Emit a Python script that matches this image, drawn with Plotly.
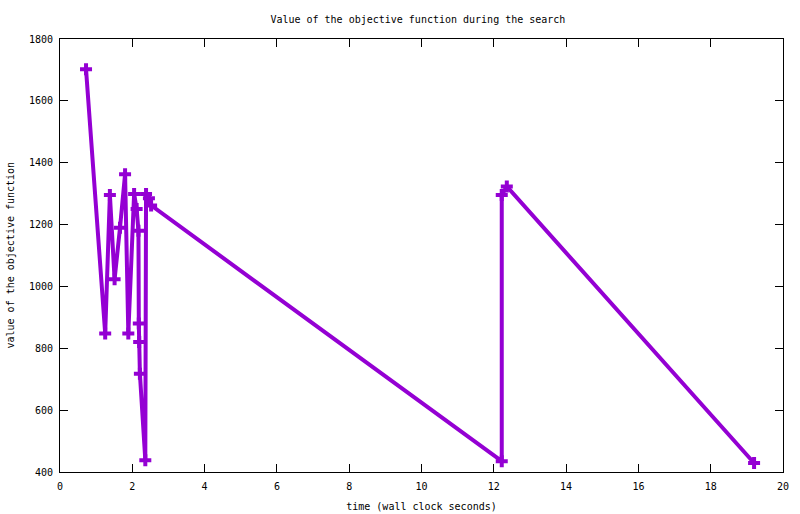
import plotly.graph_objects as go

time_s = [0.72, 1.25, 1.38, 1.51, 1.66, 1.80, 1.89, 2.05, 2.12, 2.17, 2.18, 2.19, 2.21, 2.36, 2.38, 2.46, 2.52,
          12.22, 12.22, 12.36, 19.20]
objective = [1702, 848, 1296, 1023, 1190, 1363, 848, 1299, 1250, 1180, 880, 820, 718, 438, 1299, 1285, 1262,
             435, 1296, 1323, 429]

x_ticks = list(range(0, 21, 2))
y_ticks = list(range(400, 1801, 200))

color = "#9400D3"
font_family = "DejaVu Sans Mono"
fsize = 10
txt_font = dict(family=font_family, size=fsize, color="black")

fig = go.Figure()
fig.add_trace(go.Scatter(
    x=time_s, y=objective, mode="lines+markers",
    line=dict(color=color, width=4),
    marker=dict(symbol="cross", size=10, color=color),
    showlegend=False,
))

axis_common = dict(
    showline=True, linecolor="black", linewidth=1, mirror="allticks",
    ticks="inside", ticklen=8, tickcolor="black", showgrid=False, zeroline=False,
    automargin=False,
    tickfont=txt_font,
)

fig.update_layout(
    width=800, height=514,
    paper_bgcolor="white", plot_bgcolor="white",
    margin=dict(l=60, r=17, t=39, b=42),
    title=dict(text="Value of the objective function during the search", x=0.495, xanchor="center",
               xref="paper", y=1 - 19 / 514, yanchor="middle", yref="container",
               font=txt_font),
    xaxis=dict(range=[0, 20], tickvals=x_ticks, ticklabelstandoff=5,
               title=dict(text="time (wall clock seconds)", standoff=11, font=txt_font),
               **axis_common),
    yaxis=dict(range=[400, 1800], tickvals=y_ticks, ticklabelstandoff=4,
               **axis_common),
    annotations=[dict(text="value of the objective function", textangle=-90,
                      xref="paper", yref="paper", x=(10 - 60) / 723, y=0.5,
                      xanchor="center", yanchor="middle", showarrow=False, font=txt_font)],
)

fig.write_html("out.html", post_script="document.body.style.margin='0';",
               config={"displayModeBar": False})
